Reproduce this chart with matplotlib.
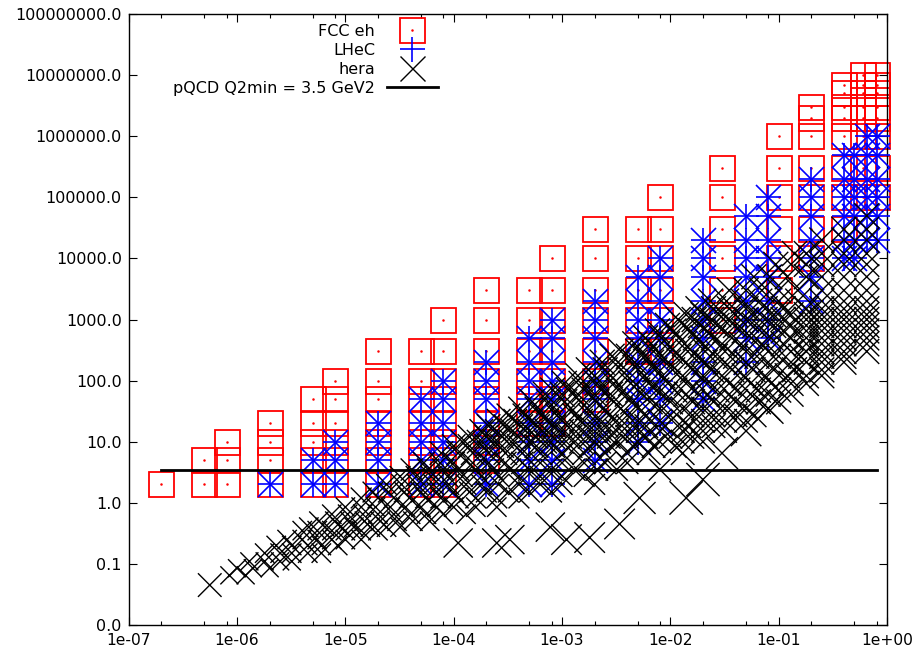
import matplotlib
matplotlib.use("Agg")
import matplotlib.pyplot as plt
from matplotlib.ticker import FixedLocator, NullLocator, FuncFormatter
from matplotlib.lines import Line2D

# ---------------- data ----------------
# FCC eh : x columns and the Q2 values present in each column
fcc_x = [2e-7, 5e-7, 8e-7, 2e-6, 5e-6, 8e-6, 2e-5, 5e-5, 8e-5, 2e-4, 5e-4,
         8e-4, 2e-3, 5e-3, 8e-3, 3e-2, 0.1, 0.2, 0.4, 0.6, 0.8]
fcc_q2 = [
    [2],
    [2, 5],
    [2, 5, 10],
    [2, 5, 10, 20],
    [2, 5, 10, 20, 50],
    [2, 5, 10, 20, 50, 100],
    [2, 5, 10, 20, 50, 100, 300],
    [2, 5, 10, 20, 50, 100, 300],
    [2, 5, 10, 20, 50, 100, 300, 1000],
    [5, 10, 20, 50, 100, 300, 1000, 3000],
    [20, 50, 100, 300, 1000, 3000],
    [20, 50, 100, 300, 1000, 3000, 1e4],
    [50, 100, 300, 1000, 3000, 1e4, 3e4],
    [300, 1000, 3000, 1e4, 3e4],
    [300, 1000, 3000, 1e4, 3e4, 1e5],
    [1000, 3000, 1e4, 3e4, 1e5, 3e5],
    [3000, 1e4, 3e4, 1e5, 3e5, 1e6],
    [1e4, 3e4, 1e5, 3e5, 1e6, 2e6, 3e6],
    [3e4, 1e5, 3e5, 1e6, 2e6, 3e6, 5e6, 7e6],
    [1e5, 3e5, 1e6, 2e6, 3e6, 5e6, 7e6, 1e7],
    [1e5, 3e5, 1e6, 2e6, 3e6, 5e6, 7e6, 1e7],
]

# LHeC
lhec_x = [2e-6, 5e-6, 8e-6, 2e-5, 5e-5, 8e-5, 2e-4, 5e-4, 8e-4, 2e-3, 5e-3,
          8e-3, 2e-2, 5e-2, 8e-2, 0.2, 0.4, 0.5, 0.65, 0.8]
lhec_q2 = [
    [2],
    [2, 5],
    [2, 5, 10],
    [2, 5, 10, 20],
    [2, 5, 10, 20, 50],
    [2, 5, 10, 20, 50, 100],
    [2, 5, 10, 20, 50, 100, 200],
    [2, 5, 10, 20, 50, 100, 200, 500],
    [2, 5, 10, 20, 50, 100, 200, 500, 1000],
    [5, 10, 20, 50, 100, 200, 500, 1000, 2000],
    [10, 20, 50, 100, 200, 500, 1000, 2000, 5000],
    [20, 50, 100, 200, 500, 1000, 2000, 5000, 1e4],
    [50, 100, 200, 500, 1000, 2000, 5000, 1e4, 2e4],
    [200, 500, 1000, 2000, 5000, 1e4, 2e4, 5e4],
    [500, 1000, 2000, 5000, 1e4, 2e4, 5e4, 1e5],
    [2000, 5000, 1e4, 2e4, 5e4, 1e5, 2e5],
    [1e4, 2e4, 5e4, 1e5, 2e5, 5e5],
    [1e4, 2e4, 5e4, 1e5, 2e5, 5e5],
    [2e4, 5e4, 1e5, 2e5, 5e5, 1e6],
    [2e4, 5e4, 1e5, 2e5, 5e5, 1e6],
]

# HERA : Q2 rows, x values in each row, marker size per row
hera_q2 = [0.045, 0.065, 0.085, 0.11, 0.15, 0.2, 0.25, 0.35, 0.4, 0.5, 0.65,
           0.85, 1.2, 1.5, 2, 2.7, 3.5, 4.5, 6.5, 8.5, 10, 12, 15, 18, 22, 27,
           35, 45, 60, 70, 90, 120, 150, 200, 250, 300, 400, 500, 650, 800,
           1000, 1200, 1500, 2000, 3000, 5000, 8000, 12000, 20000, 30000, 50000]
hera_x = [
    [5.6e-7],
    [8.5e-7, 1.2e-6],
    [1.0e-6, 1.4e-6, 2.0e-6],
    [1.3e-6, 1.8e-6, 2.5e-6, 3.2e-6],
    [1.8e-6, 2.5e-6, 3.2e-6, 4.5e-6, 6e-6],
    [2.3e-6, 3.2e-6, 4.5e-6, 6e-6, 8.5e-6],
    [2.9e-6, 4e-6, 5.5e-6, 7.5e-6, 1.0e-5, 1.4e-5],
    [4e-6, 5.5e-6, 7.5e-6, 1.0e-5, 1.4e-5, 2e-5],
    [4.6e-6, 6.5e-6, 9e-6, 1.2e-5, 1.7e-5, 2.4e-5, 3.2e-5],
    [5.7e-6, 8e-6, 1.1e-5, 1.5e-5, 2.1e-5, 3e-5, 4.2e-5, 6e-5],
    [7.5e-6, 1.05e-5, 1.45e-5, 2e-5, 2.8e-5, 4e-5, 5.6e-5, 8e-5, 1.3e-4],
    [1e-5, 1.4e-5, 1.9e-5, 2.6e-5, 3.6e-5, 5e-5, 7e-5, 1e-4, 1.6e-4, 2.5e-4],
    [1.4e-5, 2e-5, 2.8e-5, 3.9e-5, 5.5e-5, 7.6e-5, 1.1e-4, 1.6e-4, 2.5e-4, 4e-4],
    [1.8e-5, 2.5e-5, 3.5e-5, 5e-5, 7e-5, 1e-4, 1.4e-4, 2e-4, 3.2e-4, 5e-4, 8e-4],
    [2.4e-5, 3.3e-5, 4.6e-5, 6.5e-5, 9e-5, 1.3e-4, 1.8e-4, 2.6e-4, 4e-4, 6.3e-4, 1e-3, 2e-3],
    [3.2e-5, 4.5e-5, 6.2e-5, 8.8e-5, 1.2e-4, 1.8e-4, 2.6e-4, 4e-4, 6.3e-4, 1e-3, 1.6e-3],
    [4.1e-5, 5.8e-5, 8e-5, 1.1e-4, 1.6e-4, 2.3e-4, 3.3e-4, 5e-4, 8e-4, 1.3e-3, 2.1e-3, 3.2e-3, 8e-3],
    [5.3e-5, 7.5e-5, 1e-4, 1.5e-4, 2.1e-4, 3e-4, 4.3e-4, 6.3e-4, 1e-3, 1.6e-3, 2.5e-3, 4e-3],
    [7.7e-5, 1.1e-4, 1.5e-4, 2.1e-4, 3e-4, 4.3e-4, 6.3e-4, 1e-3, 1.6e-3, 2.5e-3, 4e-3, 6.3e-3, 1.3e-2],
    [1e-4, 1.4e-4, 2e-4, 2.8e-4, 4e-4, 5.8e-4, 8.3e-4, 1.2e-3, 1.8e-3, 2.8e-3, 4.5e-3, 7e-3, 1.1e-2],
    [1.2e-4, 1.7e-4, 2.4e-4, 3.4e-4, 5e-4, 7e-4, 1e-3, 1.5e-3, 2.2e-3, 3.3e-3, 5e-3, 8e-3, 1.3e-2, 2e-2],
    [1.4e-4, 2e-4, 2.8e-4, 4e-4, 5.8e-4, 8.3e-4, 1.2e-3, 1.8e-3, 2.7e-3, 4e-3, 6e-3, 1e-2, 1.6e-2],
    [1.8e-4, 2.5e-4, 3.5e-4, 5e-4, 7.2e-4, 1e-3, 1.5e-3, 2.2e-3, 3.2e-3, 5e-3, 8e-3, 1.3e-2, 2e-2, 3.2e-2],
    [2.1e-4, 3e-4, 4.2e-4, 6e-4, 8.5e-4, 1.2e-3, 1.8e-3, 2.6e-3, 4e-3, 6e-3, 9e-3, 1.5e-2, 2.5e-2],
    [2.6e-4, 3.7e-4, 5.2e-4, 7.3e-4, 1e-3, 1.5e-3, 2.2e-3, 3.2e-3, 5e-3, 8e-3, 1.3e-2, 2e-2, 3.2e-2, 5e-2],
    [3.2e-4, 4.5e-4, 6.4e-4, 9e-4, 1.3e-3, 1.8e-3, 2.7e-3, 4e-3, 6e-3, 1e-2, 1.6e-2, 2.5e-2, 4e-2, 6e-2],
    [4.1e-4, 5.8e-4, 8.2e-4, 1.2e-3, 1.7e-3, 2.4e-3, 3.5e-3, 5e-3, 8e-3, 1.3e-2, 2e-2, 3.2e-2, 5e-2, 8e-2],
    [5.3e-4, 7.5e-4, 1.06e-3, 1.5e-3, 2.1e-3, 3e-3, 4.5e-3, 6.5e-3, 1e-2, 1.6e-2, 2.5e-2, 4e-2, 6.5e-2, 0.1],
    [7e-4, 1e-3, 1.4e-3, 2e-3, 2.8e-3, 4e-3, 6e-3, 9e-3, 1.4e-2, 2.2e-2, 3.5e-2, 5.5e-2, 8e-2, 0.13],
    [8.2e-4, 1.15e-3, 1.6e-3, 2.3e-3, 3.3e-3, 5e-3, 7.5e-3, 1.1e-2, 1.7e-2, 2.7e-2, 4.2e-2, 6.5e-2, 0.1],
    [1.05e-3, 1.5e-3, 2.1e-3, 3e-3, 4.3e-3, 6.3e-3, 9.5e-3, 1.4e-2, 2.2e-2, 3.5e-2, 5.5e-2, 8.5e-2, 0.13, 0.18],
    [1.4e-3, 2e-3, 2.8e-3, 4e-3, 5.8e-3, 8.5e-3, 1.3e-2, 2e-2, 3e-2, 4.8e-2, 7.5e-2, 0.12, 0.18, 0.25],
    [1.75e-3, 2.5e-3, 3.5e-3, 5e-3, 7.2e-3, 1.05e-2, 1.6e-2, 2.4e-2, 3.7e-2, 5.8e-2, 9e-2, 0.14, 0.25],
    [2.35e-3, 3.3e-3, 4.7e-3, 6.7e-3, 9.6e-3, 1.4e-2, 2.1e-2, 3.2e-2, 5e-2, 8e-2, 0.13, 0.18, 0.25, 0.4],
    [2.9e-3, 4.1e-3, 5.8e-3, 8.3e-3, 1.2e-2, 1.75e-2, 2.6e-2, 4e-2, 6.3e-2, 0.1, 0.16, 0.25, 0.4],
    [3.5e-3, 5e-3, 7e-3, 1e-2, 1.45e-2, 2.1e-2, 3.2e-2, 5e-2, 8e-2, 0.13, 0.18, 0.25, 0.4, 0.65],
    [4.7e-3, 6.6e-3, 9.4e-3, 1.35e-2, 2e-2, 3e-2, 4.5e-2, 7e-2, 0.11, 0.18, 0.25, 0.4, 0.65],
    [5.9e-3, 8.3e-3, 1.2e-2, 1.7e-2, 2.5e-2, 3.7e-2, 5.6e-2, 8.5e-2, 0.13, 0.18, 0.25, 0.4, 0.65],
    [7.6e-3, 1.08e-2, 1.55e-2, 2.2e-2, 3.2e-2, 4.8e-2, 7.3e-2, 0.11, 0.18, 0.25, 0.4, 0.65],
    [9.4e-3, 1.33e-2, 1.9e-2, 2.7e-2, 4e-2, 6e-2, 9e-2, 0.13, 0.18, 0.25, 0.4, 0.65],
    [1.18e-2, 1.66e-2, 2.4e-2, 3.4e-2, 5e-2, 7.5e-2, 0.11, 0.18, 0.25, 0.4, 0.65],
    [1.4e-2, 2e-2, 2.8e-2, 4e-2, 6e-2, 9e-2, 0.13, 0.18, 0.25, 0.4, 0.65],
    [1.8e-2, 2.5e-2, 3.5e-2, 5e-2, 7.5e-2, 0.11, 0.18, 0.25, 0.4, 0.65],
    [2.35e-2, 3.3e-2, 4.7e-2, 6.7e-2, 0.1, 0.15, 0.25, 0.4, 0.65],
    [3.5e-2, 5e-2, 7e-2, 0.1, 0.15, 0.25, 0.4, 0.65],
    [5.9e-2, 8.3e-2, 0.12, 0.18, 0.25, 0.4, 0.65],
    [9.4e-2, 0.13, 0.18, 0.25, 0.4, 0.65],
    [0.14, 0.18, 0.25, 0.4, 0.65],
    [0.25, 0.4, 0.65],
    [0.4, 0.65],
    [0.65],
]
hera_row_ms = [17, 13, 13, 13, 14, 14, 14, 14, 14, 14, 14,
               14, 15, 15, 15, 15, 16, 16, 17, 17, 17, 17, 17, 17, 17, 17,
               17, 18, 18, 18, 18, 18, 18, 18, 18, 18, 18, 18, 18, 18,
               18, 18, 18, 18, 18, 18, 18, 18, 18, 18, 18]
# sparse HERA points with large markers
hera_far_x = [1.1e-4, 2.5e-4, 3.3e-4, 7.8e-4, 1.1e-3, 1.8e-3, 3.4e-3, 5.2e-3,
              1.4e-2, 2e-2, 3e-2, 5e-2, 8e-2]
hera_far_q2 = [0.22, 0.22, 0.25, 0.4, 0.25, 0.27, 0.45, 1.2,
               1.2, 2.4, 6.5, 15, 35]
hera_far_ms = [21, 21, 21, 21, 22, 22, 22, 23, 24, 24, 23, 22, 22]

pqcd_x = [2e-7, 0.8]
pqcd_q2 = [3.5, 3.5]

xtick_vals = [1e-7, 1e-6, 1e-5, 1e-4, 1e-3, 1e-2, 1e-1, 1e0]
ytick_vals = [1e-2, 1e-1, 1e0, 1e1, 1e2, 1e3, 1e4, 1e5, 1e6, 1e7, 1e8]

# ---------------- figure ----------------
plt.rcParams['font.family'] = ['DejaVu Sans']
W, H = 913, 656
fig = plt.figure(figsize=(W / 100, H / 100), dpi=100)
ax = fig.add_axes([128.7 / W, 31 / H, (887 - 128.7) / W, (625 - 14) / H])
ax.set_xscale('log')
ax.set_yscale('log')

fx, fy = [], []
for x, rows in zip(fcc_x, fcc_q2):
    fx += [x] * len(rows)
    fy += rows
lx, ly = [], []
for x, rows in zip(lhec_x, lhec_q2):
    lx += [x] * len(rows)
    ly += rows
hx, hy, hs = [], [], []
for q, xs, ms in zip(hera_q2, hera_x, hera_row_ms):
    hx += xs
    hy += [q] * len(xs)
    hs += [ms] * len(xs)
hx += hera_far_x
hy += hera_far_q2
hs += hera_far_ms

ax.plot(fx, fy, ls='none', marker='s', ms=18, mfc='none', mec='#ff0000',
        mew=1.3, clip_on=False, zorder=2)
ax.plot(fx, fy, ls='none', marker='.', ms=1.6, color='#ff0000',
        clip_on=False, zorder=2)
ax.plot(lx, ly, ls='none', marker='+', ms=18, color='#0000ff', mew=1.2,
        clip_on=False, zorder=3)
ax.plot(lx, ly, ls='none', marker='x', ms=18, color='#0000ff', mew=1.2,
        clip_on=False, zorder=3)
ax.scatter(hx, hy, s=[m * m for m in hs], marker='x', c='black',
           linewidths=1.0, clip_on=False, zorder=4)
ax.plot(pqcd_x, pqcd_q2, color='black', lw=2.0, zorder=5)

ax.set_xlim(1e-7, 1)
ax.set_ylim(1e-2, 1e8)

ax.xaxis.set_major_locator(FixedLocator(xtick_vals))
minor = []
for d in xtick_vals[:-1]:
    minor += [2 * d, 5 * d, 8 * d]
ax.xaxis.set_minor_locator(FixedLocator(minor))
ax.xaxis.set_major_formatter(FuncFormatter(lambda v, p: f"{v:.0e}"))
ax.yaxis.set_major_locator(FixedLocator(ytick_vals))
ax.yaxis.set_minor_locator(NullLocator())
ax.yaxis.set_major_formatter(FuncFormatter(lambda v, p: f"{v:.1f}"))

ax.tick_params(which='both', direction='in', top=True, right=True,
               colors='black')
ax.tick_params(axis='y', labelsize=11.5)
ax.tick_params(axis='x', labelsize=11.2)
ax.tick_params(which='major', length=5.5, width=0.8)
ax.tick_params(axis='x', which='major', pad=6)
ax.tick_params(axis='y', which='major', pad=5)
ax.tick_params(which='minor', length=3.2, width=0.8)
for s in ax.spines.values():
    s.set_linewidth(1.0)

h_fcc = (Line2D([], [], ls='none', marker='s', ms=18, mfc='none',
                mec='#ff0000', mew=1.3),
         Line2D([], [], ls='none', marker='.', ms=1.6, color='#ff0000'))
h_lhec = Line2D([], [], ls='none', marker='+', ms=18, color='#0000ff', mew=1.2)
h_hera = Line2D([], [], ls='none', marker='x', ms=18, color='black', mew=1.0)
h_pqcd = Line2D([], [], color='black', lw=2.0)
leg = ax.legend([h_fcc, h_lhec, h_hera, h_pqcd],
                ['FCC eh', 'LHeC', 'hera', 'pQCD Q2min = 3.5 GeV2'],
                loc='upper right', bbox_to_anchor=(438 / W, 1 - 24 / H),
                bbox_transform=fig.transFigure, markerfirst=False,
                frameon=False, handlelength=3.2, handletextpad=0.75,
                labelspacing=0.25, borderpad=0, borderaxespad=0,
                fontsize=11.5)
leg.set_zorder(10)

fig.savefig('out.png', dpi=100)
